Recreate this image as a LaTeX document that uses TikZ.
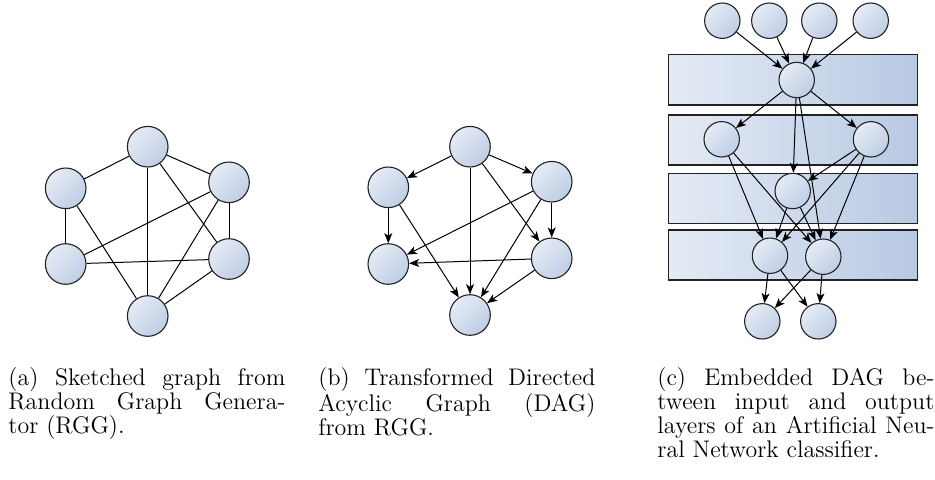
\documentclass[tikz,border=0pt]{standalone}
\usetikzlibrary{arrows.meta}
\definecolor{lightfill}{RGB}{229,235,245}
\definecolor{darkfill}{RGB}{183,201,227}
\definecolor{cdark}{RGB}{190,206,229}
\definecolor{edgegray}{RGB}{34,34,34}
\begin{document}
\begin{tikzpicture}[x=0.5pt,y=-0.5pt,
  vert/.style={circle, draw=edgegray, line width=0.55pt, minimum size=20.3pt, inner sep=0pt,
    top color=lightfill, bottom color=cdark, shading angle=45},
  smallvert/.style={vert, minimum size=17.7pt},
  bandbox/.style={draw=edgegray, line width=0.6pt, left color=lightfill, right color=darkfill,
    minimum width=124.7pt, inner sep=0pt},
  conn/.style={line width=0.5pt, draw=black},
  arr/.style={conn, -{Stealth[length=5pt, width=4pt, inset=1.3pt]}},
  captext/.style={anchor=base west, text width=138.5pt, inner sep=0pt, align=justify,
    font=\fontsize{12}{12}\selectfont}]
\path[use as bounding box] (0,0) rectangle (935,479);

% ---------- panel (a)
\node[vert] (at) at (147.7,146.7) {};
\node[vert] (aul) at (65.7,188.3) {};
\node[vert] (aur) at (229,182.3) {};
\node[vert] (all) at (65.7,264) {};
\node[vert] (alr) at (229,259) {};
\node[vert] (ab) at (147.7,316) {};
\draw[conn] (at) -- (aul);
\draw[conn] (at) -- (aur);
\draw[conn] (at) -- (ab);
\draw[conn] (at) -- (alr);
\draw[conn] (aul) -- (all);
\draw[conn] (aul) -- (ab);
\draw[conn] (aur) -- (all);
\draw[conn] (aur) -- (alr);
\draw[conn] (aur) -- (ab);
\draw[conn] (all) -- (alr);
\draw[conn] (alr) -- (ab);

% ---------- panel (b)
\node[vert] (bt) at (470,146.7) {};
\node[vert] (bul) at (388.3,187.3) {};
\node[vert] (bur) at (551.7,181.7) {};
\node[vert] (bll) at (388.3,264) {};
\node[vert] (blr) at (551.7,258.3) {};
\node[vert] (bb) at (470,315) {};
\draw[arr] (bt) -- (bul);
\draw[arr] (bt) -- (bur);
\draw[arr] (bt) -- (bb);
\draw[arr] (bt) -- (blr);
\draw[arr] (bul) -- (bll);
\draw[arr] (bul) -- (bb);
\draw[arr] (bur) -- (bll);
\draw[arr] (bur) -- (blr);
\draw[arr] (bur) -- (bb);
\draw[arr] (blr) -- (bll);
\draw[arr] (blr) -- (bb);

% ---------- panel (c)
\node[bandbox, minimum height=25.3pt] (band1) at (793,79.7) {};
\node[bandbox, minimum height=25pt] (band2) at (793,140) {};
\node[bandbox, minimum height=25pt] (band3) at (793,198.3) {};
\node[bandbox, minimum height=25pt] (band4) at (793,255) {};

\node[smallvert] (i1) at (722.3,20.7) {};
\node[smallvert] (i2) at (769.3,20.7) {};
\node[smallvert] (i3) at (819.3,20.7) {};
\node[smallvert] (i4) at (870.7,20.7) {};
\node[smallvert] (h1) at (796.7,80) {};
\node[smallvert] (h2l) at (721.7,139.3) {};
\node[smallvert] (h2r) at (871,139.3) {};
\node[smallvert] (h3) at (792.7,191) {};
\node[smallvert] (h4l) at (770,255.7) {};
\node[smallvert] (h4r) at (823.3,256.7) {};
\node[smallvert] (o1) at (762.3,321.3) {};
\node[smallvert] (o2) at (818.3,321.3) {};

\draw[arr] (i1) -- (h1);
\draw[arr] (i2) -- (h1);
\draw[arr] (i3) -- (h1);
\draw[arr] (i4) -- (h1);
\draw[arr] (h1) -- (h2l);
\draw[arr] (h1) -- (h2r);
\draw[arr] (h1) -- (h3);
\draw[arr] (h1) -- (h4r);
\draw[arr] (h2l) -- (h4l);
\draw[arr] (h2l) -- (h4r);
\draw[arr] (h2r) -- (h3);
\draw[arr] (h2r) -- (h4l);
\draw[arr] (h2r) -- (h4r);
\draw[arr] (h3) -- (h4l);
\draw[arr] (h3) -- (h4r);
\draw[arr] (h4l) -- (o1);
\draw[arr] (h4l) -- (o2);
\draw[arr] (h4r) -- (o1);
\draw[arr] (h4r) -- (o2);

% ---------- captions
\node[captext] (capa) at (8,385) {(a) Sketched graph from\linebreak Random Graph Genera-\linebreak tor (RGG).};
\node[captext] (capb) at (318,385) {(b) Transformed Directed\linebreak Acyclic Graph (DAG)\linebreak from RGG.};
\node[captext] (capc) at (657,385) {(c) Embedded DAG be-\linebreak tween input and output\linebreak layers of an Artificial Neu-\linebreak ral Network classifier.};
\end{tikzpicture}
\end{document}
